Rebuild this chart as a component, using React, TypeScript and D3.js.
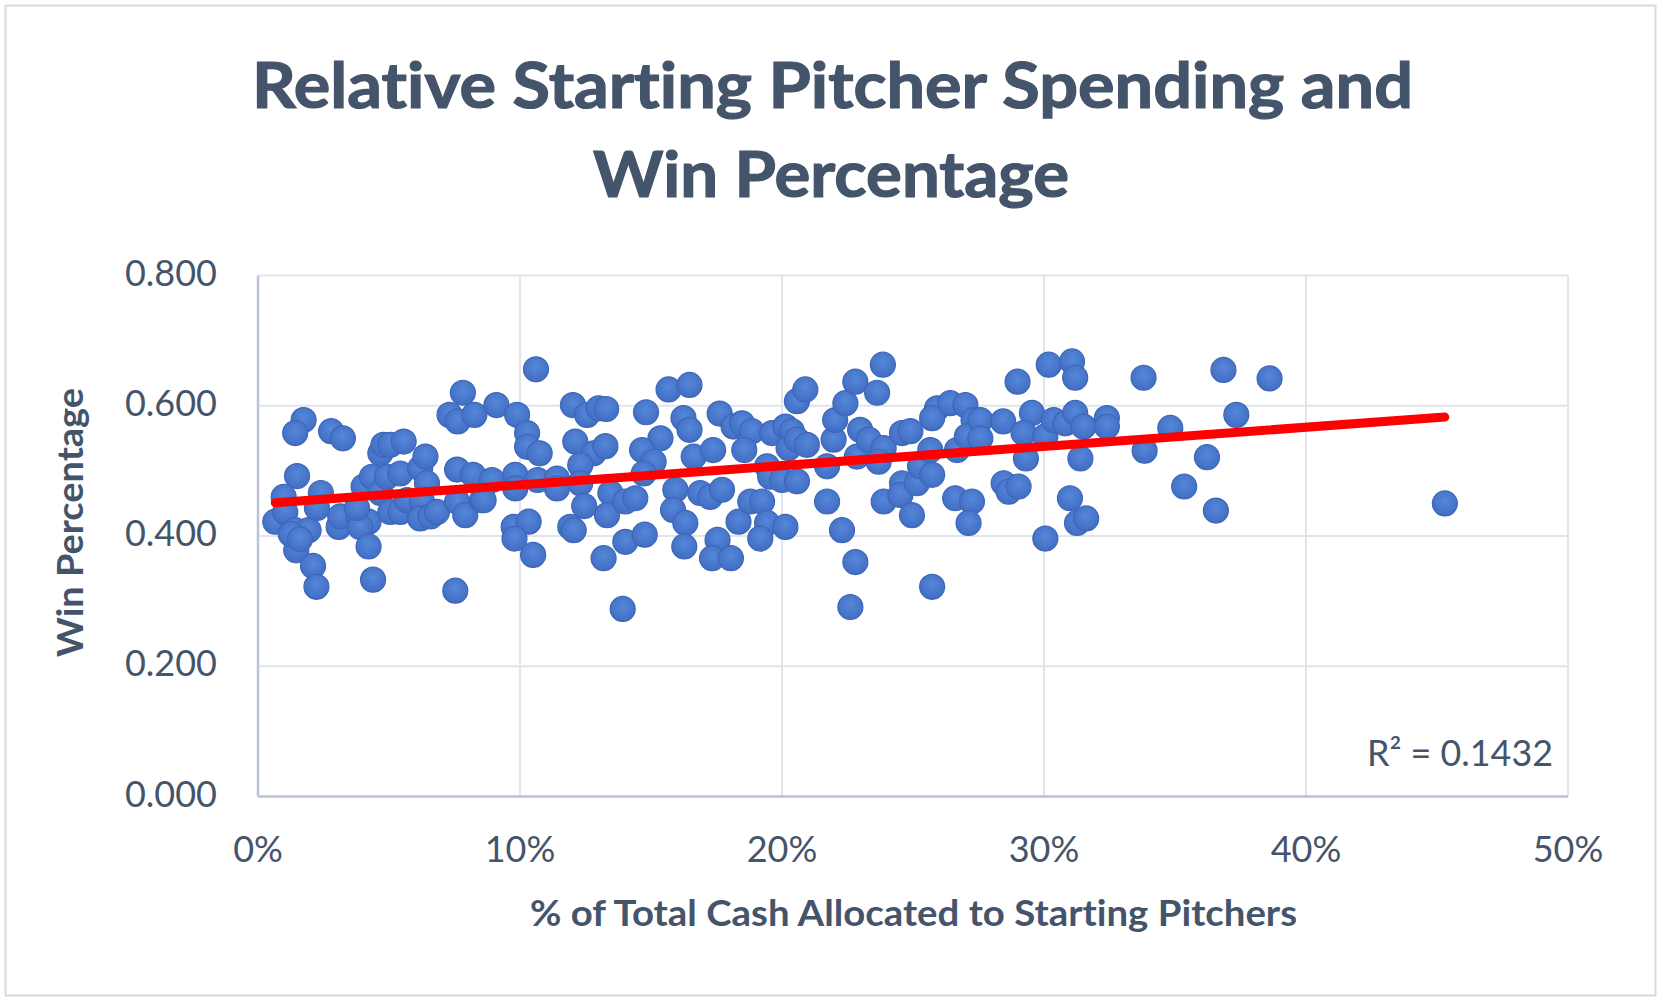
import { useMemo } from "react";
import * as d3 from "d3";

const WIDTH = 1663;
const HEIGHT = 1003;
const PLOT = { left: 258, right: 1568, top: 275.5, bottom: 796.5 };

const TITLE_LINES = ["Relative Starting Pitcher Spending and", "Win Percentage"];
const X_TITLE = "% of Total Cash Allocated to Starting Pitchers";
const Y_TITLE = "Win Percentage";
const R2_LABEL = "R² = 0.1432";

const X_TICKS = [0, 10, 20, 30, 40, 50];
const Y_TICKS = [0, 0.2, 0.4, 0.6, 0.8];

// linear trend line (Excel fit), win = a + b * pct
const TREND_INTERCEPT = 0.449;
const TREND_SLOPE = 0.00295;

// % of total cash spent on starting pitchers
const CASH_PCT = [
  1.74, 1.42, 2.79, 3.24, 1.49, 0.98, 0.66, 1.04, 1.42, 1.93, 2.4, 2.25, 1.46, 2.1, 2.23, 3.08,
  3.14, 3.84, 4.22, 3.9, 3.78, 4.22, 4.39, 4.03, 4.35, 4.67, 4.79, 5.05, 5.56, 4.67, 4.92, 5.43,
  5.05, 5.43, 5.69, 6.19, 6.39, 6.45, 6.26, 6.19, 6.58, 6.83, 7.31, 7.82, 7.62, 8.26, 9.1, 7.6,
  8.21, 7.6, 7.91, 8.55, 8.93, 7.53, 1.25, 1.6,
  9.89, 10.27, 10.27, 10.75, 10.61, 8.61, 9.82, 9.82, 10.67, 11.41, 11.41, 9.76, 10.33, 9.79,
  10.5, 12.02, 12.56, 13.0, 13.29, 12.11, 12.81, 13.26, 12.3, 12.3, 11.92, 12.05, 12.45, 13.45,
  13.32, 14.02, 14.4, 14.02, 14.76, 13.19, 13.92, 14.81, 15.67, 16.47, 16.24, 16.47, 15.36,
  14.66, 15.1, 14.72, 16.63, 17.37, 17.62, 18.15, 15.93, 15.84, 16.31, 16.27, 16.88, 17.26,
  17.71, 17.54, 17.33, 18.05, 18.34,
  18.47, 18.85, 18.56, 18.79, 19.24, 19.43, 19.17, 20.13, 19.62, 20.13, 20.38, 19.43, 19.55,
  20.0, 20.25, 20.57, 20.95, 20.57, 20.57, 20.89, 21.72, 21.72, 21.97, 22.03, 22.42, 22.29,
  22.8, 22.8, 22.98, 22.86, 23.31, 23.88, 23.69, 23.63, 23.85, 22.61, 24.58, 24.9, 24.58,
  23.88, 24.52, 25.15, 24.96, 25.27, 25.73, 25.66, 25.73, 25.92, 25.73, 26.42, 27.0, 27.31,
  26.68, 27.06, 26.61, 27.25, 27.12,
  27.57, 27.57, 28.44, 28.99, 29.54, 29.22, 29.31, 30.05, 30.18, 31.07, 31.19, 30.37, 30.81,
  31.19, 31.51, 32.4, 32.4, 31.39, 28.46, 28.65, 29.03, 30.99, 31.26, 31.61, 30.05, 33.8,
  34.82, 33.84, 36.22, 35.35, 36.56, 36.85, 37.34, 38.61, 45.3,
];

// team win percentage, same order as CASH_PCT
const WIN_PCT = [
  0.578, 0.558, 0.561, 0.55, 0.492, 0.46, 0.422, 0.437, 0.409, 0.409, 0.466, 0.443, 0.378,
  0.354, 0.322, 0.414, 0.43, 0.43, 0.422, 0.414, 0.443, 0.384, 0.333, 0.476, 0.491, 0.527,
  0.54, 0.54, 0.545, 0.466, 0.491, 0.496, 0.437, 0.437, 0.455, 0.504, 0.522, 0.481, 0.453,
  0.427, 0.43, 0.437, 0.586, 0.62, 0.576, 0.586, 0.601, 0.502, 0.494, 0.453, 0.432, 0.455,
  0.486, 0.316, 0.403, 0.395,
  0.586, 0.558, 0.537, 0.527, 0.656, 0.455, 0.494, 0.473, 0.486, 0.488, 0.473, 0.414, 0.422,
  0.396, 0.371, 0.601, 0.586, 0.596, 0.595, 0.545, 0.527, 0.538, 0.509, 0.481, 0.414, 0.409,
  0.446, 0.466, 0.432, 0.453, 0.458, 0.391, 0.402, 0.366, 0.288, 0.59, 0.625, 0.632, 0.581,
  0.563, 0.55, 0.532, 0.514, 0.496, 0.522, 0.532, 0.588, 0.568, 0.471, 0.44, 0.42, 0.384,
  0.466, 0.46, 0.471, 0.394, 0.366, 0.366, 0.422,
  0.573, 0.561, 0.532, 0.453, 0.453, 0.42, 0.396, 0.414, 0.558, 0.568, 0.561, 0.507, 0.491,
  0.486, 0.535, 0.548, 0.54, 0.484, 0.607, 0.625, 0.507, 0.453, 0.548, 0.578, 0.604, 0.409,
  0.36, 0.637, 0.563, 0.522, 0.548, 0.535, 0.514, 0.62, 0.663, 0.291, 0.558, 0.561, 0.481,
  0.453, 0.463, 0.481, 0.432, 0.507, 0.494, 0.532, 0.322, 0.596, 0.581, 0.604, 0.601, 0.578,
  0.532, 0.553, 0.458, 0.453, 0.42,
  0.578, 0.55, 0.576, 0.637, 0.589, 0.558, 0.519, 0.553, 0.663, 0.668, 0.643, 0.578, 0.573,
  0.589, 0.568, 0.581, 0.568, 0.519, 0.481, 0.468, 0.476, 0.458, 0.42, 0.427, 0.396, 0.643,
  0.566, 0.531, 0.521, 0.476, 0.439, 0.655, 0.586, 0.642, 0.45,
];

const TEXT = "#44546A";
const FONT = "Lato, 'Open Sans', sans-serif";
const NO_LIGA = { fontVariantLigatures: "none" as const };

const App = () => {
  const xScale = useMemo(() => d3.scaleLinear().domain([0, 50]).range([PLOT.left, PLOT.right]), []);
  const yScale = useMemo(() => d3.scaleLinear().domain([0, 0.8]).range([PLOT.bottom, PLOT.top]), []);

  const trendX = d3.extent(CASH_PCT) as [number, number];
  const trendPath = d3
    .line<number>()
    .x((d) => xScale(d))
    .y((d) => yScale(TREND_INTERCEPT + TREND_SLOPE * d))(trendX);

  return (
    <div style={{ position: "absolute", left: 0, top: 0 }}>
      <svg width={WIDTH} height={HEIGHT} style={{ display: "block", background: "white" }}>
        <defs>
          <radialGradient id="dot" cx="0.5" cy="0.4" r="0.6">
            <stop offset="0%" stopColor="#5587D9" />
            <stop offset="100%" stopColor="#416DC2" />
          </radialGradient>
        </defs>
        <rect x={5.5} y={5.5} width={1650} height={990} fill="white" stroke="#D9D9D9" strokeWidth={2} />

        {/* title */}
        {TITLE_LINES.map((t, i) => (
          <text
            key={t}
            x={i === 0 ? 252 : 593}
            y={i === 0 ? 108 : 197}
            fontFamily={FONT}
            fontWeight={700}
            fontSize={64}
            fill={TEXT}
            stroke={TEXT}
            strokeWidth={1.2}
            style={NO_LIGA}
            textLength={i === 0 ? 1161 : 476}
            lengthAdjust="spacingAndGlyphs"
          >
            {t}
          </text>
        ))}

        {/* grid */}
        {Y_TICKS.filter((v) => v > 0).map((v) => (
          <line key={"gy" + v} x1={PLOT.left} x2={PLOT.right} y1={yScale(v)} y2={yScale(v)} stroke="#E1E5EB" strokeWidth={2} />
        ))}
        {X_TICKS.filter((v) => v > 0).map((v) => (
          <line key={"gx" + v} x1={xScale(v)} x2={xScale(v)} y1={PLOT.top} y2={PLOT.bottom} stroke="#E1E5EB" strokeWidth={2} />
        ))}
        <line x1={PLOT.left} x2={PLOT.left} y1={PLOT.top} y2={PLOT.bottom} stroke="#B9C3D5" strokeWidth={2.5} />
        <line x1={PLOT.left} x2={PLOT.right} y1={PLOT.bottom} y2={PLOT.bottom} stroke="#B9C3D5" strokeWidth={2.5} />

        {/* tick labels */}
        {Y_TICKS.map((v) => (
          <text key={"ty" + v} x={217} y={yScale(v) + 10} textAnchor="end" fontFamily={FONT} fontSize={36} fill={TEXT}>
            {d3.format(".3f")(v)}
          </text>
        ))}
        {X_TICKS.map((v) => (
          <text key={"tx" + v} x={xScale(v)} y={862} textAnchor="middle" fontFamily={FONT} fontSize={36} fill={TEXT}>
            {v + "%"}
          </text>
        ))}

        {/* points */}
        {CASH_PCT.map((x, i) => (
          <circle key={i} cx={xScale(x)} cy={yScale(WIN_PCT[i])} r={12.5} fill="url(#dot)" stroke="#3D67B8" strokeWidth={1.2} />
        ))}

        {/* trend line */}
        <path d={trendPath || ""} fill="none" stroke="#FF0000" strokeWidth={9} strokeLinecap="round" />

        <text x={1367} y={766} fontFamily={FONT} fontSize={36} fill={TEXT} textLength={186} lengthAdjust="spacingAndGlyphs">
          {R2_LABEL}
        </text>

        {/* axis titles */}
        <text
          x={530}
          y={926}
          fontFamily={FONT}
          fontWeight={700}
          fontSize={36}
          fill={TEXT}
          style={NO_LIGA}
          textLength={767}
          lengthAdjust="spacingAndGlyphs"
        >
          {X_TITLE}
        </text>
        <text
          transform="translate(83,522.5) rotate(-90)"
          textAnchor="middle"
          fontFamily={FONT}
          fontWeight={700}
          fontSize={36}
          fill={TEXT}
          style={NO_LIGA}
          textLength={269}
          lengthAdjust="spacingAndGlyphs"
        >
          {Y_TITLE}
        </text>
      </svg>
    </div>
  );
};

export default App;
